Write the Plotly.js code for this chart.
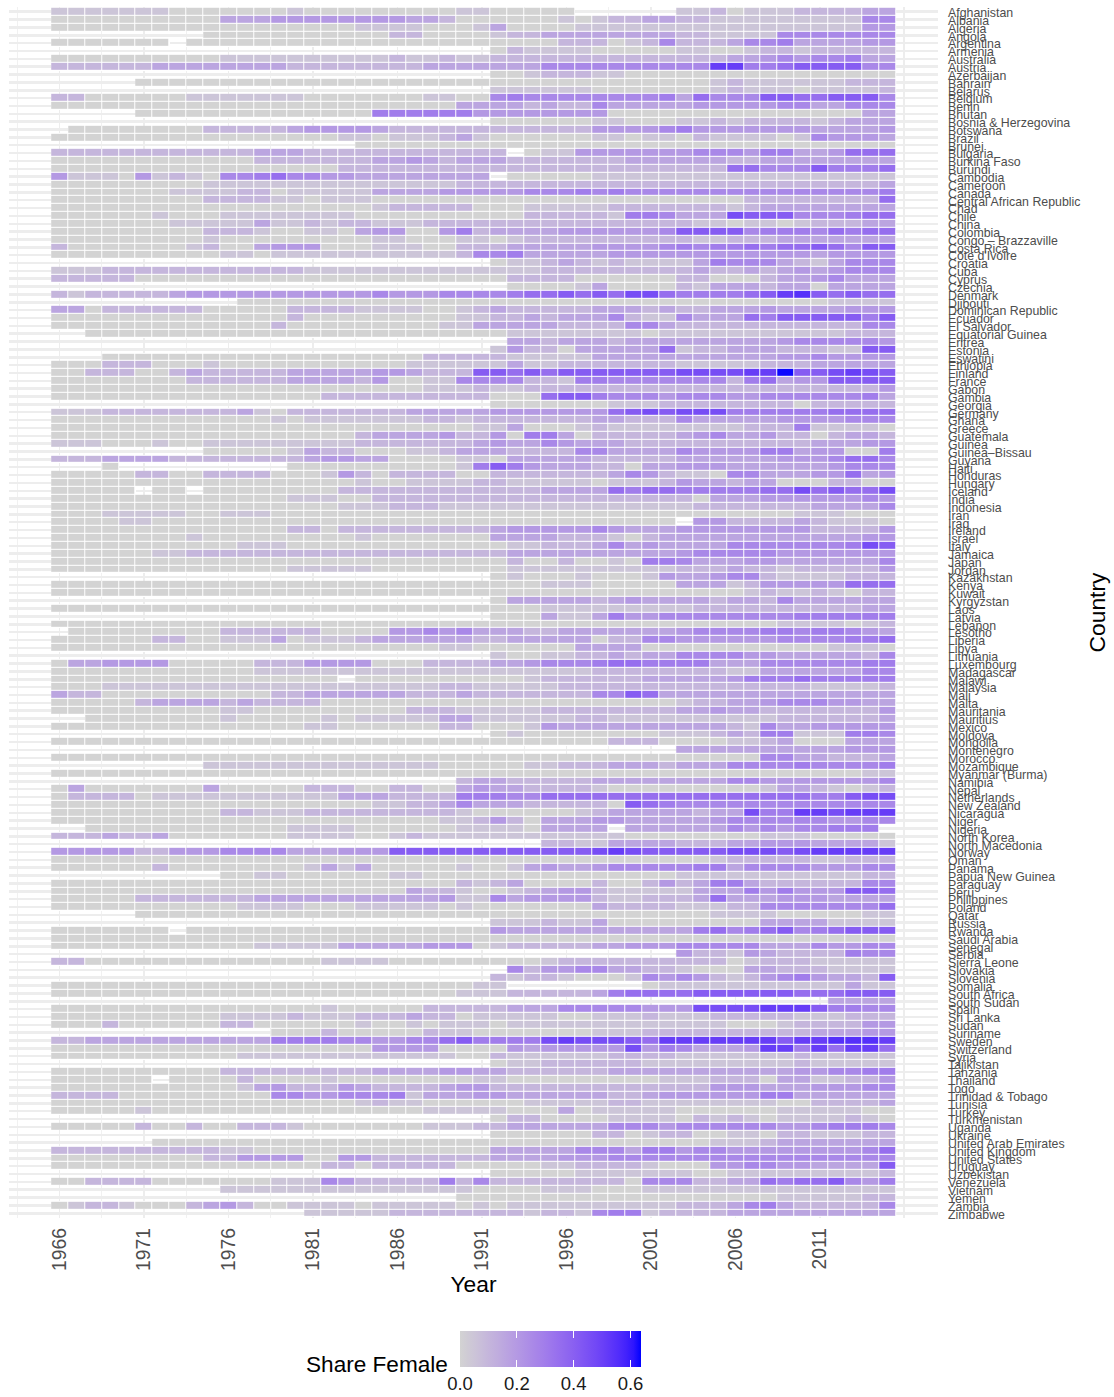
<!DOCTYPE html>
<html><head><meta charset="utf-8">
<script src="https://cdn.plot.ly/plotly-3.0.1.min.js"></script>
<style>html,body{margin:0;padding:0;background:#fff}</style>
</head><body><div id="chart" style="width:1114px;height:1397px"></div>
<script>
var years=[];for(var yy=1966;yy<=2015;yy++)years.push(yy);
var majorTicks=[1966,1971,1976,1981,1986,1991,1996,2001,2006,2011,2016];
var majorLabels=['1966','1971','1976','1981','1986','1991','1996','2001','2006','2011',''];
var minorTicks=[1963.5,1968.5,1973.5,1978.5,1983.5,1988.5,1993.5,1998.5,2003.5,2008.5,2013.5];
var legendTicks=[0,0.2,0.4,0.6];
// read level of each cell -> share female
var levelValues={'0':0,'1':.05,'2':.10,'3':.16,'4':.20,'5':.26,'6':.30,'7':.35,'8':.41,'9':.46,'a':.51,'b':.55,'c':.63};
var countries=["Afghanistan","Albania","Algeria","Angola","Argentina","Armenia","Australia","Austria","Azerbaijan","Bahrain","Belarus","Belgium","Benin","Bhutan","Bosnia & Herzegovina","Botswana","Brazil","Brunei","Bulgaria","Burkina Faso","Burundi","Cambodia","Cameroon","Canada","Central African Republic","Chad","Chile","China","Colombia","Congo – Brazzaville","Costa Rica","Côte d'Ivoire","Croatia","Cuba","Cyprus","Czechia","Denmark","Djibouti","Dominican Republic","Ecuador","El Salvador","Equatorial Guinea","Eritrea","Estonia","Eswatini","Ethiopia","Finland","France","Gabon","Gambia","Georgia","Germany","Ghana","Greece","Guatemala","Guinea","Guinea–Bissau","Guyana","Haiti","Honduras","Hungary","Iceland","India","Indonesia","Iran","Iraq","Ireland","Israel","Italy","Jamaica","Japan","Jordan","Kazakhstan","Kenya","Kuwait","Kyrgyzstan","Laos","Latvia","Lebanon","Lesotho","Liberia","Libya","Lithuania","Luxembourg","Madagascar","Malawi","Malaysia","Mali","Malta","Mauritania","Mauritius","Mexico","Moldova","Mongolia","Montenegro","Morocco","Mozambique","Myanmar (Burma)","Namibia","Nepal","Netherlands","New Zealand","Nicaragua","Niger","Nigeria","North Korea","North Macedonia","Norway","Oman","Panama","Papua New Guinea","Paraguay","Peru","Philippines","Poland","Qatar","Russia","Rwanda","Saudi Arabia","Senegal","Serbia","Sierra Leone","Slovakia","Slovenia","Somalia","South Africa","South Sudan","Spain","Sri Lanka","Sudan","Suriname","Sweden","Switzerland","Syria","Tajikistan","Tanzania","Thailand","Togo","Trinidad & Tobago","Tunisia","Turkey","Turkmenistan","Uganda","Ukraine","United Arab Emirates","United Kingdom","United States","Uruguay","Uzbekistan","Venezuela","Vietnam","Yemen","Zambia","Zimbabwe"];
var shareRows=[
"11111 11000 00001 00000 00001 10000 0.... ..112 01112 22233",
"00000 00000 33344 44444 43320 00000 10122 33221 11111 11155",
"00000 00000 00000 00011 11000 13000 01111 11111 11111 11144",
"..... ....0 00000 00000 22000 01223 33333 33221 11155 55555",
"00000 00.00 00000 00000 00000 00000 22201 25222 35563 33344",
"..... ..... ..... ..... ..... .0211 11000 00110 01221 22222",
"00000 00000 11111 11111 21121 12222 22222 22222 33454 55633",
"22222 23333 33332 22222 22333 33335 55555 5555a a6678 88855",
"..... ..... ..... ..... ..... .0012 22110 00000 00000 00000",
"..... 00000 00000 00000 00000 00000 00000 00001 21111 11222",
"..... ..... ..... ..... ..... .1111 11000 00001 21110 11112",
"22000 00011 11111 00000 00110 05655 55555 56375 55887 78885",
"00000 00000 00000 00000 00003 33323 22533 33344 44455 33555",
"..... 00000 00000 00006 66666 44444 44400 00000 00000 00033",
"..... ..... ..... ..... ..... .0000 00110 00112 12222 12333",
".0000 00002 22223 44443 22222 22222 22444 45644 44444 33334",
"00000 00000 00000 00110 11123 10000 00110 11021 11101 54443",
"..... ..... ..... ...00 00000 00000 00000 00000 00000 00000",
"22222 22222 22333 22222 22222 22.01 14444 44455 54663 34777",
"00000 00000 00222 22223 34323 33222 22223 33333 22333 33333",
"00000 00000 00000 00222 22222 22222 22222 22222 77555 86667",
"41110 41210 55675 54433 33333 3.000 00111 11111 11111 11111",
"00000 00001 11111 11111 11112 22222 22222 22222 22222 22223",
"00000 00111 12201 11113 33344 44455 56565 55555 55555 55556",
"00000 00002 22211 01110 00000 00000 00000 00000 02222 22227",
"00000 00000 00000 00001 22222 00011 11122 22222 12333 33333",
"00000 01000 11111 11100 00000 00022 22216 65333 98885 55677",
"00000 00111 11311 21221 11222 22222 22222 22211 01101 22233",
"00000 00002 22100 11034 40046 23333 44444 45888 85666 57677",
"00000 00001 00000 00001 10001 10122 22222 22211 22233 33333",
"20000 00012 00344 40001 11002 22333 33444 45656 67677 87588",
"00000 00000 11011 11111 11112 55633 33344 44444 44444 34444",
"..... ..... ..... ..... ..... .0112 32121 11136 55532 13555",
"11122 22222 22222 11111 11111 11112 22222 22232 23234 34555",
"22222 00000 00000 00000 00000 00222 20000 00220 00233 45333",
"..... ..... ..... ..... ..... ..000 01300 00213 33233 03333",
"21222 22344 44444 44445 44455 55677 87879 97666 678ab 87877",
"..... ..... .0000 00000 00000 00000 00000 00000 00000 01111",
"33022 22220 00002 22211 11001 23222 22333 23223 33433 33444",
"00000 00000 00002 00000 00001 12232 33352 11533 37688 88868",
"00000 00000 00020 00000 00011 33333 22225 53222 22222 22255",
"..000 00000 00000 00000 00000 00111 11111 01111 11111 11222",
"..... ..... ..... ..... ..... ..332 33323 33333 33345 55554",
"..... ..... ..... ..... ..... .1422 03333 37122 33322 21188",
"...00 00000 00000 00000 00222 22111 11333 33333 33344 54444",
"00022 20001 00000 00000 01111 11311 22222 22111 11222 33333",
"00222 00232 22223 33334 43222 88787 88888 88999 9aac8 89a98",
"00000 00022 22223 33324 00115 55522 16655 55555 26734 48888",
"00000 00000 00000 00000 00111 21122 22222 22222 22222 22224",
"00000 00000 00000 02222 22222 20007 88655 54555 44555 55563",
"..... ..... ..... ..... ..... .0000 00011 12222 22220 22222",
"11122 22222 23102 22222 23333 34444 44478 98999 66666 67777",
"00000 00000 00010 11111 11221 22222 22332 22533 33344 44555",
"00000 00000 00000 00000 00000 11300 01211 11111 12226 11110",
"00000 00000 00000 00023 33342 24066 30222 22345 33422 02332",
"11100 01001 11111 11122 22222 34335 43332 22222 22222 33344",
"..... ....0 00001 32200 01123 33222 25533 33544 44663 44006",
"22233 33222 22222 34433 00001 10333 33222 22333 33344 45775",
"...0. ..... ....0 00000 00001 68643 33220 33444 33333 34555",
"00000 22002 22200 01420 22220 02222 22235 42110 55333 44734",
"00000 00000 00000 00010 01111 22111 11011 12433 23300 02200",
"00000 .00.0 00000 00222 22222 22223 33376 77666 66779 78779",
"00000 00000 00001 11002 22222 22222 22222 22203 33444 44454",
"00000 00000 00000 00111 22211 11111 11111 11122 22222 33335",
"00011 11100 11100 00000 00000 00000 00000 00000 00001 11000",
"00001 10000 00000 00000 00000 00000 00000 00.44 22223 21110",
"00000 00000 00002 20222 22222 23444 44543 33444 44444 22224",
"00000 00010 00000 00010 00000 03333 22210 23333 33333 33344",
"00000 00000 01110 00000 00000 00112 22353 43333 55555 55698",
"00000 01122 22222 22222 22222 22333 33333 33455 55544 44444",
"00000 00000 00000 00000 00000 00200 20010 66533 34433 33335",
"00000 00000 00001 11110 00000 00111 11111 11222 32212 22224",
"..... ..... ..... ..... ..... .0100 01000 14334 55211 11222",
"00000 00000 00000 00000 00000 00001 11000 00333 12444 44777",
"00000 00000 00000 00000 00000 00000 00000 00000 01211 21022",
"..... ..... ..... ..... ..... .0333 33234 33332 33253 33333",
"00000 00000 00000 00000 00000 00001 11111 11122 22222 22233",
"..... ..... ..... ..... ..... .0003 11364 45555 55556 66666",
"00000 00000 00000 00000 00000 00000 00000 00000 00011 11012",
".0000 00000 22222 20000 44545 33322 33333 33455 55665 66543",
"00000 02200 11130 11123 33333 22333 33022 55444 44455 55667",
"00000 00000 00000 00000 00011 00000 03333 00000 00000 01110",
"..... ..... ..... ..... ..... .1001 12232 33555 54433 33325",
"03344 44000 00222 44440 00222 23345 55677 66663 33555 55566",
"00000 00000 00111 11111 11111 11111 11222 22222 11333 33355",
"00000 00000 00000 00.00 00000 00012 22222 33333 46667 66666",
"00011 11111 11111 11111 11122 11111 22222 22222 22222 11112",
"32200 00000 00022 33333 32223 22222 22558 73333 33333 33333",
"00000 23333 23222 20000 00000 00000 00000 00122 33455 54433",
"00000 00000 11000 00000 02221 11112 22222 22334 33222 22224",
"..000 00000 10000 01011 11133 11111 12211 11111 11122 22223",
"00000 00000 00000 11000 00022 00014 33333 33333 21533 44444",
"..... ..... ..... ..... ..... .0100 00000 01112 32661 11665",
"00000 00000 00000 00000 00000 00000 00022 20000 11230 00333",
"..... ..... ..... ..... ..... ..... ..... ..333 33333 33444",
"00000 00000 00000 00000 00000 00000 00000 00000 00553 32223",
"..... ....1 11111 11111 11100 00011 22233 32333 55556 55556",
"00000 00000 00000 00000 00000 00000 00000 00000 00000 00011",
"..... ..... ..... ..... ....2 33222 22333 33333 55444 44445",
"03000 00003 00000 22200 22003 43322 22100 00000 00133 21012",
"02222 01111 11111 11333 22226 66557 77777 77777 77777 66899",
"00000 00000 00000 00001 12235 33322 22208 76555 55555 55555",
"00000 00000 22111 22222 22221 00000 01233 33323 3966a a9aaa",
"00000 00000 00000 00000 00011 24203 33443 33334 55555 54455",
"..000 00000 00001 11100 00001 11103 333.3 33333 54545 5666.",
"22232 23000 00001 11100 12111 11111 11110 00000 00111 00000",
"..... ..... ..... ..... ..... ....2 21133 33222 33444 33331",
"44444 22444 55553 33444 88888 88888 889a9 88888 99989 aaaaa",
"00000 00000 00000 00000 00000 00000 00000 00001 22222 11222",
"00000 02000 00000 13130 00001 00134 33455 55566 35555 44455",
"..... ..... 00110 00000 11000 00000 00000 00111 11111 11122",
"00000 00000 00000 00000 00002 12300 00200 24236 63222 22255",
"00000 00000 00000 00000 03221 00123 44211 11133 36464 44887",
"00000 22222 22333 33333 33341 15344 44211 22237 33344 43333",
"00000 00000 01111 00011 11101 00000 00322 22111 22555 55557",
"..... 00000 00000 00000 00000 00000 00000 00001 11100 00011",
"..... ..... ..... ..... ..... .1112 11300 00000 00333 31111",
"00000 00.00 00000 00000 00000 04333 33333 33367 56785 67888",
"00000 00000 00000 00000 00000 00000 00000 00000 00000 00000",
"00000 00000 00111 11333 33444 01222 22334 44555 55333 54455",
"..... ..... ..... ..... ..... ..... ..... ..422 14322 22655",
"22000 00000 00000 01111 00000 00001 22222 22222 01222 11111",
"..... ..... ..... ..... ..... ..524 45533 22100 03322 21111",
"..... ..... ..... ..... ..... .2122 10001 54542 12456 43328",
"00000 00000 00000 00000 00000 11... ..... 01111 11111 11311",
"00000 00000 00000 00000 00001 11222 22367 77788 88887 77888",
"..... ..... ..... ..... ..... ..... ..... ..... ..... .3333",
"00000 00000 00000 01000 00222 22333 55555 44499 99aaa 86655",
"00000 00000 11112 11122 23220 11111 00111 21112 22221 11222",
"00020 00000 22000 00010 01011 10111 11111 11111 00012 22244",
"..... ..... ...00 02000 00211 00000 00111 22222 22222 33344",
"22333 33333 33366 66554 45578 66669 a9998 7aaaa aaa8a abbba",
"00000 00000 00000 00004 44400 00434 44449 46533 34aa6 a7aa7",
"00000 00000 01111 11111 11110 02111 11122 22111 11112 11111",
"..... ..... ..... ..... ..... .0112 22222 11111 11112 11111",
"00000 00000 22222 22223 33344 33222 22233 33333 33334 45566",
"00000 0.000 02000 01000 00000 11000 00000 01112 22033 11224",
"00000 00000 01342 22432 22234 42222 22222 22224 44333 44455",
"22220 00000 00055 44555 61333 44333 33322 34444 44663 33333",
"00000 00000 00000 00012 11000 00011 11122 11111 11100 22223",
"00000 10000 00000 00000 00111 11000 30111 11000 00011 11100",
"..... ..... ..... ..... ..... .0220 00011 11021 21011 11210",
"00000 20020 02221 00000 00111 22333 33355 54555 55544 56665",
"..... ..... ..... ..... ..... .0000 00220 12200 11022 11122",
"..... .0000 00000 00000 00000 00000 00000 00001 11233 33333",
"22222 22222 11000 00000 00000 03333 35553 66455 44444 44457",
"00000 00002 24444 00442 22222 23333 44455 55555 55555 55555",
"00000 00000 00000 02202 22220 00001 12222 10004 45544 33338",
"..... ..... ..... ..... ..... .0000 01111 11100 11111 11112",
"00222 20000 00011 15422 22262 52222 22220 55522 33767 78546",
"..... ..... 11111 11111 11111 00001 11000 11111 11111 11111",
"..... ..... ..... ..... ....0 00000 00000 00000 00011 11122",
"01221 00023 42001 11101 11110 10111 11111 11222 35632 22225",
"..... ..... ..... 11111 22222 22212 21566 12222 33333 33333"
];
var shareZ=shareRows.map(function(r){return r.replace(/ /g,'').split('').map(function(c){return c==='.'?null:levelValues[c];});});

// ggplot-like gradient: lightgrey to blue, interpolated in Lab
function lab2rgb(L,a,b){var fy=(L+16)/116,fx=fy+a/500,fz=fy-b/200;
 function f(t){return t>6/29?t*t*t:3*(6/29)*(6/29)*(t-4/29);}
 var X=0.95047*f(fx),Y=f(fy),Z=1.08883*f(fz);
 var rgb=[3.2406*X-1.5372*Y-0.4986*Z,-0.9689*X+1.8758*Y+0.0415*Z,0.0557*X-0.2040*Y+1.0570*Z];
 return 'rgb('+rgb.map(function(c){c=Math.max(0,Math.min(1,c));c=c<=0.0031308?12.92*c:1.055*Math.pow(c,1/2.4)-0.055;return Math.round(c*255);}).join(',')+')';}
var scale=[];for(var i=0;i<=24;i++){var t=i/24;scale.push([t,lab2rgb(84.56+(32.30-84.56)*t,79.19*t,-107.86*t)]);}

var W=1114,H=1397,pl=9,pr=938,pt=7,pb=1217.7,pw=pr-pl,ph=pb-pt;
var barL=460,barW=181,barT=1331,barH=36,zMax=0.637;
var gridC='#EDEDED';
function legendBar(thick,top,labels){return {orientation:'h',lenmode:'pixels',len:barW,thickness:thick,thicknessmode:'pixels',x:(barL-pl)/pw,xanchor:'left',
   y:(pb-top)/ph,yanchor:'top',xpad:0,ypad:0,outlinewidth:0,borderwidth:0,tickmode:'array',tickvals:legendTicks,
   ticktext:['0.0','0.2','0.4','0.6'],showticklabels:labels,ticks:'inside',ticklen:7,tickwidth:1,tickcolor:'#fff',
   tickfont:{family:'Liberation Sans',size:18.5,color:'#1a1a1a'}};}
var traces=[
 {type:'heatmap',x:years,y:countries,z:shareZ,zmin:0,zmax:1,colorscale:[[0,'#fff'],[1,'#fff']],showscale:false,hoverinfo:'skip'},
 {type:'heatmap',x:years,y:countries,z:shareZ,zmin:0,zmax:zMax,colorscale:scale,xgap:1,ygap:1,colorbar:legendBar(barH,barT,true)},
 {type:'heatmap',x:years,y:countries,z:shareZ,zmin:0,zmax:zMax,colorscale:scale,xgap:1,ygap:1,opacity:0,colorbar:legendBar(7,barT,false)}
];
var layout={width:W,height:H,paper_bgcolor:'#fff',plot_bgcolor:'#fff',showlegend:false,
 margin:{l:pl,r:W-pr,t:pt,b:H-pb,pad:0,autoexpand:false},
 font:{family:'Liberation Sans'},
 xaxis:{type:'linear',range:[1963,2018],tickmode:'array',tickvals:majorTicks,ticktext:majorLabels,tickangle:-90,
  showgrid:true,gridcolor:gridC,gridwidth:1.6,zeroline:false,showline:false,ticks:'',ticklabelstandoff:5,
  tickfont:{family:'Liberation Sans',size:19.4,color:'#4D4D4D'},
  minor:{tickmode:'array',tickvals:minorTicks,showgrid:true,gridcolor:gridC,gridwidth:0.8,ticks:''},
  title:{text:'Year',font:{family:'Liberation Sans',size:22.8,color:'#000'},standoff:5}},
 yaxis:{type:'category',side:'right',categoryorder:'array',categoryarray:countries,range:[countries.length-0.4,-0.6],
  tickmode:'array',tickvals:countries,ticktext:countries,showgrid:true,gridcolor:gridC,gridwidth:2.5,zeroline:false,showline:false,ticks:'',ticklabelstandoff:9,ticklabelshift:-1,
  tickfont:{family:'Liberation Sans',size:12.35,color:'#4D4D4D'},
  title:{text:'Country',font:{family:'Liberation Sans',size:22.8,color:'#000'},standoff:9}},
 annotations:[{text:'Share Female',xref:'paper',yref:'paper',x:(450-pl)/pw,y:(pb-1364)/ph,xanchor:'right',yanchor:'middle',showarrow:false,
  font:{family:'Liberation Sans',size:22.6,color:'#000'}}]
};
Plotly.newPlot('chart',traces,layout,{displayModeBar:false,staticPlot:true});
</script></body></html>
